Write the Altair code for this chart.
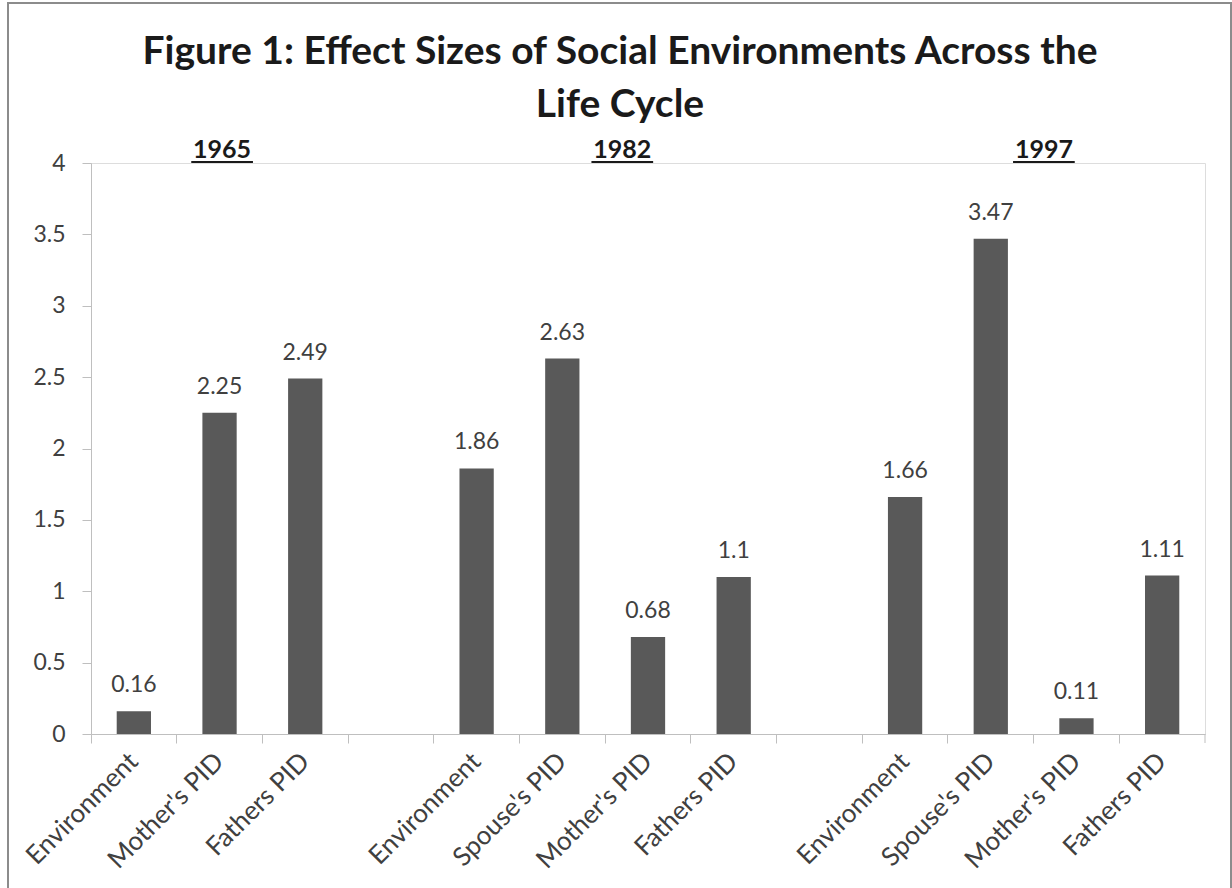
import altair as alt
import pandas as pd

# ---- data ----
slots = ["1965|Environment", "1965|Mother's PID", "1965|Fathers PID", "gap1",
         "1982|Environment", "1982|Spouse's PID", "1982|Mother's PID", "1982|Fathers PID", "gap2",
         "1997|Environment", "1997|Spouse's PID", "1997|Mother's PID", "1997|Fathers PID"]
bar_keys = ["1965|Environment", "1965|Mother's PID", "1965|Fathers PID",
            "1982|Environment", "1982|Spouse's PID", "1982|Mother's PID", "1982|Fathers PID",
            "1997|Environment", "1997|Spouse's PID", "1997|Mother's PID", "1997|Fathers PID"]
values = [0.16, 2.25, 2.49, 1.86, 2.63, 0.68, 1.1, 1.66, 3.47, 0.11, 1.11]
years = ["1965", "1982", "1997"]
y_ticks = [0, 0.5, 1, 1.5, 2, 2.5, 3, 3.5, 4]
title_lines = ["Figure 1: Effect Sizes of Social Environments Across the", "Life Cycle"]

# layout (slot units along the 13-slot axis) for year headings
year_pos = [1.53, 6.2, 11.12]

W, H = 1114, 571
FONT = "Lato"
TXT = "#404040"
AX = "#bfbfbf"

df = pd.DataFrame({"key": bar_keys, "value": values})
ydf = pd.DataFrame({"year": years, "pos": year_pos})
ydf["lo"] = ydf["pos"] - 0.36
ydf["hi"] = ydf["pos"] + 0.36

xscale = alt.Scale(domain=slots, paddingInner=0, paddingOuter=0)
yscale = alt.Scale(domain=[0, 4], nice=False)

x_enc = alt.X("key:N", scale=xscale, sort=slots, title=None,
              axis=alt.Axis(labelAngle=-45, labelAlign="right", labelBaseline="middle",
                            labelExpr="indexof(datum.value,'|')>=0 ? split(datum.value,'|')[1] : ''",
                            bandPosition=0, tickSize=9, tickColor=AX, domainColor=AX,
                            labelFont=FONT, labelFontSize=26, labelColor=TXT, labelPadding=14,
                            labelOverlap=False, labelBound=False))

one = pd.DataFrame({"k": [0]})

border = alt.Chart(one).mark_rect(
    fillOpacity=0, stroke="#8c8c8c", strokeWidth=2
).encode(x=alt.value(-83), x2=alt.value(1140), y=alt.value(-160), y2=alt.value(740))

title = alt.Chart(one).mark_text(
    font=FONT, fontSize=39, fontWeight="bold", color="#1a1a1a",
    align="center", baseline="alphabetic", lineHeight=53
).encode(x=alt.value(529), y=alt.value(-99), text=alt.value(title_lines))

bars = alt.Chart(df).mark_bar(color="#595959", width=alt.RelativeBandSize(0.4)).encode(
    x=x_enc,
    y=alt.Y("value:Q", scale=yscale, title=None,
            axis=alt.Axis(values=y_ticks, format="~g", grid=False, tickSize=9, tickColor=AX,
                          domainColor=AX, labelFont=FONT, labelFontSize=23, labelColor=TXT,
                          labelPadding=17)),
)

labels = alt.Chart(df).mark_text(font=FONT, fontSize=23, color=TXT, baseline="alphabetic", dy=-19).encode(
    x=alt.X("key:N", scale=xscale, sort=slots),
    y=alt.Y("value:Q", scale=yscale),
    text=alt.Text("value:Q", format="~g"),
)

end_tick = alt.Chart(one).mark_rule(color=AX).encode(
    x=alt.value(W), y=alt.value(H), y2=alt.value(H + 9))

qx = alt.Scale(domain=[0, 13], nice=False, zero=False)
year_text = alt.Chart(ydf).mark_text(font=FONT, fontSize=25, fontWeight="bold", color="#1a1a1a",
                                     baseline="alphabetic").encode(
    x=alt.X("pos:Q", scale=qx, axis=None),
    y=alt.value(-5),
    text="year:N",
)
year_line = alt.Chart(ydf).mark_rule(color="#1a1a1a", strokeWidth=2).encode(
    x=alt.X("lo:Q", scale=qx, axis=None),
    x2="hi:Q",
    y=alt.value(-1),
)

main = alt.layer(border, title, bars, labels, end_tick)
ann = alt.layer(year_text, year_line)

chart = alt.layer(main, ann).resolve_scale(x="independent").properties(
    width=W, height=H,
    autosize=alt.AutoSizeParams(type="none"),
    padding={"left": 91, "top": 163, "right": 27, "bottom": 154},
).configure_view(stroke=None).configure(background="white")

chart.save("out.html", embed_options={"renderer": "svg", "actions": False})
